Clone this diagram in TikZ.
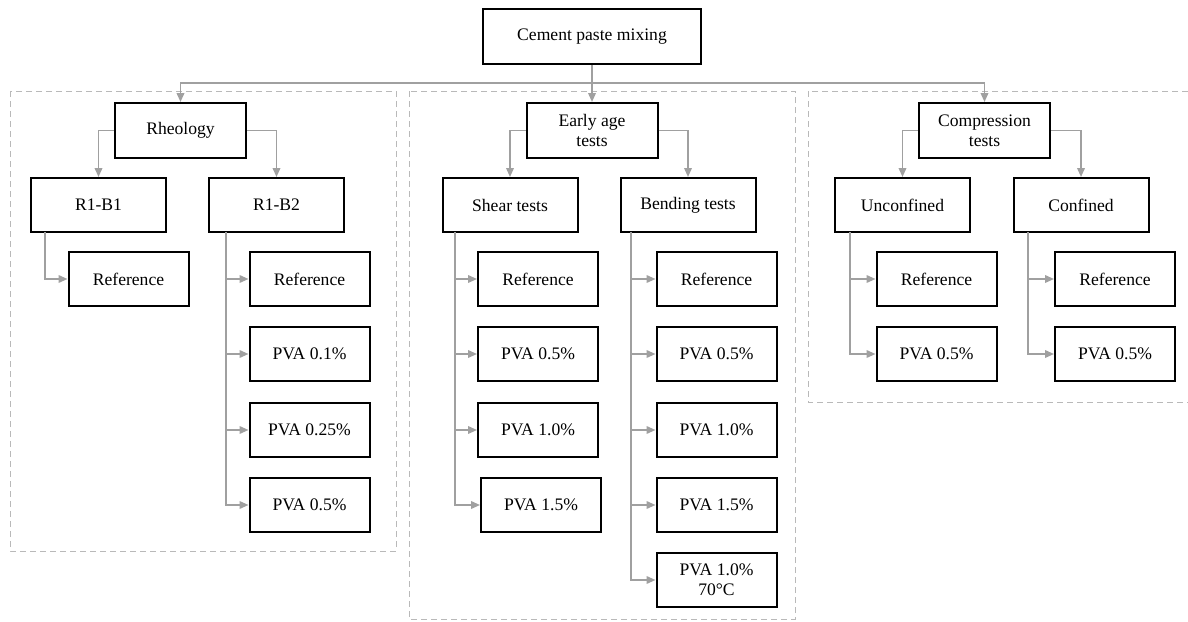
\documentclass[tikz,border=0pt]{standalone}
\usepackage{fontspec}
\setmainfont{Liberation Serif}
\usetikzlibrary{arrows.meta}
\definecolor{linkgray}{RGB}{160,160,160}
\definecolor{framegray}{RGB}{185,185,185}

\begin{document}
\begin{tikzpicture}[x=0.5pt,y=-0.5pt,
  box/.style={draw, line width=1pt, inner sep=0pt, align=center, font=\fontsize{8.8}{10}\selectfont},
  root/.style={box, minimum width=109pt, minimum height=27.5pt},
  group/.style={box, minimum width=65.5pt, minimum height=27.5pt},
  branch/.style={box, minimum width=67.5pt, minimum height=27pt},
  leaf/.style={box, minimum width=60pt, minimum height=27pt},
  link/.style={draw=linkgray, line width=0.85pt, -{Triangle[length=4.5pt,width=3.8pt]}},
  frame/.style={draw=framegray, line width=0.5pt, dash pattern=on 3pt off 2pt}]
\useasboundingbox (0,0) rectangle (1188,621);

\draw[frame] (10,91) rectangle (396,551);
\draw[frame] (409,91) rectangle (795,619);
\draw[frame] (808,91) rectangle (1192,402);

\node[root] at (592,36.5) (mix) {Cement paste mixing};
\node[group] at (180.5,130.5) (rheo) {Rheology};
\node[group] at (592,130.5) (early) {Early age\\tests};
\node[group] at (984.5,130.5) (comp) {Compression\\tests};

\node[branch] at (98.5,205) (r1b1) {R1-B1};
\node[branch] at (276.5,205) (r1b2) {R1-B2};
\node[branch] at (510,205) (shear) {Shear tests};
\node[branch] at (688,205) (bend) {Bending tests};
\node[branch] at (902.5,205) (unconf) {Unconfined};
\node[branch] at (1081,205) (conf) {Confined};

\node[leaf] at (128.5,279) (b1ref) {Reference};
\node[leaf] at (309.5,279) (b2ref) {Reference};
\node[leaf] at (309.5,354) (b2pva1) {PVA 0.1\%};
\node[leaf] at (309.5,430) (b2pva2) {PVA 0.25\%};
\node[leaf] at (309.5,505) (b2pva3) {PVA 0.5\%};
\node[leaf] at (538,279) (shref) {Reference};
\node[leaf] at (538,354) (shpva1) {PVA 0.5\%};
\node[leaf] at (538,430) (shpva2) {PVA 1.0\%};
\node[leaf] at (541,505) (shpva3) {PVA 1.5\%};
\node[leaf] at (716.5,279) (bdref) {Reference};
\node[leaf] at (716.5,354) (bdpva1) {PVA 0.5\%};
\node[leaf] at (716.5,430) (bdpva2) {PVA 1.0\%};
\node[leaf] at (716.5,505) (bdpva3) {PVA 1.5\%};
\node[leaf] at (716.5,580) (bdpva4) {PVA 1.0\%\\70°C};
\node[leaf] at (936.5,279) (ucref) {Reference};
\node[leaf] at (936.5,354) (ucpva) {PVA 0.5\%};
\node[leaf] at (1115,279) (cfref) {Reference};
\node[leaf] at (1115,354) (cfpva) {PVA 0.5\%};

\coordinate (bus) at (592,83);
\coordinate (t1) at (45,232);
\coordinate (t2) at (226,232);
\coordinate (t3) at (455,232);
\coordinate (t4) at (631,232);
\coordinate (t5) at (850,232);
\coordinate (t6) at (1028,232);

\draw[link] (mix) -- (bus) -| (rheo);
\draw[link] (mix) -- (early);
\draw[link] (mix) -- (bus) -| (comp);

\draw[link] (rheo.west) -| (r1b1);
\draw[link] (rheo.east) -| (r1b2);
\draw[link] (early.west) -| (shear);
\draw[link] (early.east) -| (bend);
\draw[link] (comp.west) -| (unconf);
\draw[link] (comp.east) -| (conf);

\draw[link] (t1) |- (b1ref);
\draw[link] (t2) |- (b2ref);
\draw[link] (t2) |- (b2pva1);
\draw[link] (t2) |- (b2pva2);
\draw[link] (t2) |- (b2pva3);
\draw[link] (t3) |- (shref);
\draw[link] (t3) |- (shpva1);
\draw[link] (t3) |- (shpva2);
\draw[link] (t3) |- (shpva3);
\draw[link] (t4) |- (bdref);
\draw[link] (t4) |- (bdpva1);
\draw[link] (t4) |- (bdpva2);
\draw[link] (t4) |- (bdpva3);
\draw[link] (t4) |- (bdpva4);
\draw[link] (t5) |- (ucref);
\draw[link] (t5) |- (ucpva);
\draw[link] (t6) |- (cfref);
\draw[link] (t6) |- (cfpva);
\end{tikzpicture}
\end{document}
